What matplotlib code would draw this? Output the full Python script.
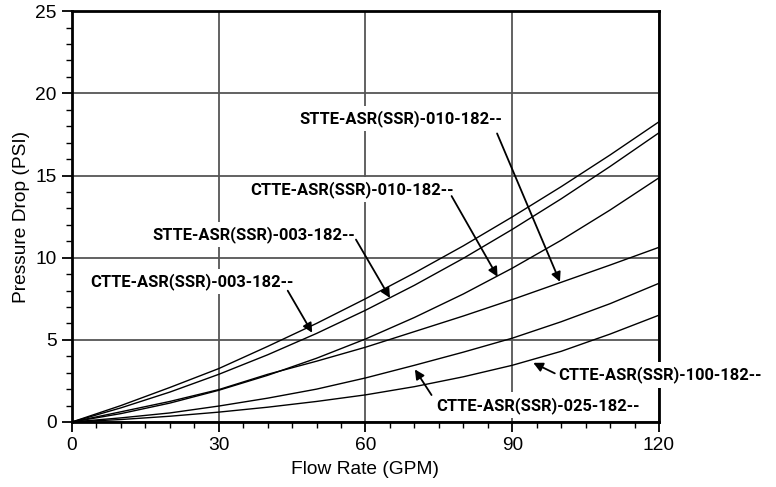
import numpy as np
import matplotlib
matplotlib.use("Agg")
import matplotlib.pyplot as plt
from matplotlib.ticker import MultipleLocator

# flow rate (GPM) and pressure drop (PSI)
flow = [0, 10, 20, 30, 40, 50, 60, 70, 80, 90, 100, 110, 120]
ctte_003 = [0, 1.0, 2.1, 3.25, 4.6, 6.0, 7.5, 9.07, 10.72, 12.48, 14.32, 16.25, 18.27]
stte_003 = [0, 0.86, 1.82, 2.9, 4.09, 5.39, 6.8, 8.32, 9.96, 11.72, 13.58, 15.55, 17.6]
ctte_010 = [0, 0.51, 1.15, 1.93, 2.84, 3.88, 5.05, 6.36, 7.79, 9.36, 11.06, 12.9, 14.86]
stte_010 = [0, 0.62, 1.25, 1.97, 2.9, 3.7, 4.55, 5.5, 6.45, 7.45, 8.5, 9.55, 10.63]
ctte_025 = [0, 0.25, 0.55, 0.97, 1.45, 2.0, 2.68, 3.45, 4.25, 5.1, 6.1, 7.2, 8.44]
ctte_100 = [0, 0.15, 0.35, 0.6, 0.9, 1.25, 1.65, 2.15, 2.75, 3.45, 4.3, 5.35, 6.5]

series = [ctte_003, stte_003, ctte_010, stte_010, ctte_025, ctte_100]

# label text, text anchor (x, y), arrow start, arrow tip
labels = [
    ("STTE-ASR(SSR)-010-182--", (46.4, 18.46), (86.9, 17.56), (99.75, 8.53)),
    ("CTTE-ASR(SSR)-010-182--", (36.4, 14.17), (77.6, 13.75), (87.0, 8.84)),
    ("STTE-ASR(SSR)-003-182--", (16.35, 11.4), (58.05, 11.1), (65.0, 7.55)),
    ("CTTE-ASR(SSR)-003-182--", (3.68, 8.55), (44.1, 7.99), (49.1, 5.43)),
    ("CTTE-ASR(SSR)-025-182--", (74.55, 1.03), (73.5, 1.64), (70.1, 3.2)),
    ("CTTE-ASR(SSR)-100-182--", (99.35, 2.86), (98.7, 2.96), (94.3, 3.6)),
]

plt.rcParams['font.family'] = ['Liberation Sans', 'DejaVu Sans']

fig = plt.figure(figsize=(7.76, 4.87), dpi=100)
ax = fig.add_axes([0.0928, 0.1335, 0.7564, 0.8435])

for s in series:
    ax.plot(flow, s, color='black', lw=1.0, zorder=3)

ax.set_xlim(0, 120)
ax.set_ylim(0, 25)
ax.xaxis.set_major_locator(MultipleLocator(30))
ax.xaxis.set_minor_locator(MultipleLocator(5))
ax.yaxis.set_major_locator(MultipleLocator(5))
ax.yaxis.set_minor_locator(MultipleLocator(1))
ax.tick_params(which='major', direction='out', length=7, width=1.3,
               labelsize=13.8, pad=4)
ax.tick_params(which='minor', direction='out', length=4, width=1.0)
ax.grid(True, which='major', color='#555555', lw=1.3, zorder=1)
for sp in ax.spines.values():
    sp.set_linewidth(2.0)

ax.set_xlabel('Flow Rate (GPM)', fontsize=13.8, labelpad=5)
ax.set_ylabel('Pressure Drop (PSI)', fontsize=13.8, labelpad=4)

for txt, pos, start, tip in labels:
    ax.text(pos[0], pos[1], txt, family=['Roboto', 'DejaVu Sans'],
            fontweight='bold', fontsize=11.9, ha='left', va='center',
            zorder=4, clip_on=False,
            bbox=dict(facecolor='white', edgecolor='none', pad=3))
    ax.annotate('', xy=tip, xytext=start, zorder=5,
                arrowprops=dict(arrowstyle='-|>', color='black', lw=1.3,
                                mutation_scale=14, shrinkA=0, shrinkB=0))

fig.savefig('out.png', dpi=100)
